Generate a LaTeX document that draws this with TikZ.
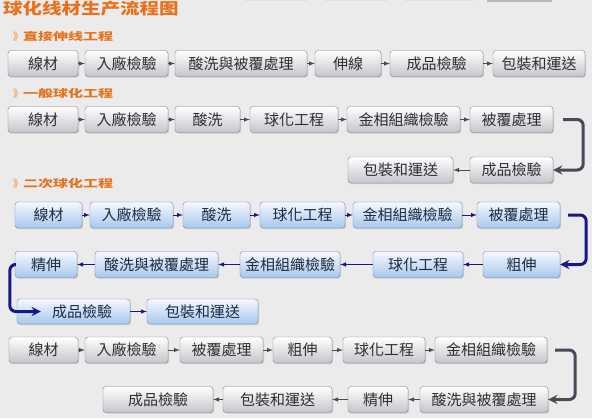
\documentclass[tikz,border=0pt]{standalone}
\usepackage{fontspec}
\usepackage{graphicx}
\newfontfamily\tcfont{Noto Sans CJK TC}
\newfontfamily\scfont{Noto Sans CJK SC}
\usetikzlibrary{shadows}

\definecolor{bgcol}{HTML}{EBEBEB}
\definecolor{hdrorange}{HTML}{E8711C}
\definecolor{hdrlight}{HTML}{F2A866}
\definecolor{boxline}{HTML}{80808A}
\definecolor{boxfill}{HTML}{C4C5CC}
\definecolor{boxtext}{HTML}{2E2E33}
\definecolor{blueline}{HTML}{6A88AC}
\definecolor{bluefill}{HTML}{A6C8EC}
\definecolor{bluetext}{HTML}{1C2B44}
\definecolor{grayarrow}{HTML}{4C4858}
\definecolor{navy}{HTML}{17178C}

\begin{document}
\begin{tikzpicture}[x=1pt,y=-1pt]
  \tikzset{box/.style={
      rounded corners=3pt, draw=boxline, top color=white, bottom color=boxfill,
      minimum height=26pt, inner sep=0pt, text=boxtext,
      font=\tcfont\fontsize{15pt}{15pt}\selectfont,
      drop shadow={shadow xshift=1pt, shadow yshift=-1.2pt, opacity=0.3}
    },
    bluebox/.style={box, draw=blueline, top color=blue!3, bottom color=bluefill, text=bluetext},
    link/.style={-latex, line width=1pt, draw=grayarrow},
    bluelink/.style={link, draw=navy},
    uturn/.style={-stealth, line width=3pt, rounded corners=6pt, draw=grayarrow},
    blueuturn/.style={uturn, draw=navy},
    header/.style={anchor=west, inner sep=0pt, text=hdrorange,
      font=\scfont\bfseries\fontsize{15pt}{15pt}\selectfont}
  }

  \useasboundingbox (0,0) rectangle (592,418);
  \fill[bgcol] (0,0) rectangle (592,418);
  % remains of the tab bar at the top edge
  \fill[gray!25] (245,0) rectangle (307,1.2);
  \fill[gray!25] (325,0) rectangle (387,1.2);
  \fill[gray!25] (405,0) rectangle (473,1.2);
  \fill[gray!55] (487,0) rectangle (552,1.6);

  \node[anchor=west, inner sep=0pt, text=hdrorange, font=\scfont\bfseries\fontsize{19.5pt}{19.5pt}\selectfont]
    (title) at (3,9) {\scalebox{1}[0.8]{球化线材生产流程图}};

  \node[header] (h1) at (13,36) {{\fontsize{10pt}{10pt}\selectfont\color{hdrlight}》}\scalebox{1}[0.7]{直接伸线工程}};
  \node[header] (h2) at (13,93) {{\fontsize{10pt}{10pt}\selectfont\color{hdrlight}》}\scalebox{1}[0.7]{一般球化工程}};
  \node[header] (h3) at (13,184) {{\fontsize{10pt}{10pt}\selectfont\color{hdrlight}》}\scalebox{1}[0.7]{二次球化工程}};

  % 直接伸线
  \node[box, minimum width=70] (r1a) at (43,63.5) {線材};
  \node[box, minimum width=83] (r1b) at (126.5,63.5) {入廠檢驗};
  \node[box, minimum width=132] (r1c) at (241,63.5) {酸洗與被覆處理};
  \node[box, minimum width=66] (r1d) at (348,63.5) {伸線};
  \node[box, minimum width=93] (r1e) at (436.5,63.5) {成品檢驗};
  \node[box, minimum width=92] (r1f) at (539,63.5) {包裝和運送};

  % 一般球化
  \node[box, minimum width=70] (r2a) at (43,119.5) {線材};
  \node[box, minimum width=83] (r2b) at (126.5,119.5) {入廠檢驗};
  \node[box, minimum width=65] (r2c) at (207.5,119.5) {酸洗};
  \node[box, minimum width=88] (r2d) at (294,119.5) {球化工程};
  \node[box, minimum width=113] (r2e) at (403.5,119.5) {金相組織檢驗};
  \node[box, minimum width=83] (r2f) at (511.5,119.5) {被覆處理};
  \node[box, minimum width=83] (r3a) at (511.5,170) {成品檢驗};
  \node[box, minimum width=105] (r3b) at (400.5,170) {包裝和運送};

  % 二次球化
  \node[bluebox, minimum width=67] (r4a) at (48.5,215) {線材};
  \node[bluebox, minimum width=83] (r4b) at (131.5,215) {入廠檢驗};
  \node[bluebox, minimum width=67] (r4c) at (216.5,215) {酸洗};
  \node[bluebox, minimum width=85] (r4d) at (302.5,215) {球化工程};
  \node[bluebox, minimum width=109] (r4e) at (407.5,215) {金相組織檢驗};
  \node[bluebox, minimum width=83] (r4f) at (518.5,215) {被覆處理};
  \node[bluebox, minimum width=77] (r5a) at (521.5,264.5) {粗伸};
  \node[bluebox, minimum width=90] (r5b) at (418,264.5) {球化工程};
  \node[bluebox, minimum width=100] (r5c) at (290,264.5) {金相組織檢驗};
  \node[bluebox, minimum width=123] (r5d) at (156.5,264.5) {酸洗與被覆處理};
  \node[bluebox, minimum width=62] (r5e) at (46,264.5) {精伸};
  \node[bluebox, minimum width=113, minimum height=25] (r6a) at (73.5,311.5) {\hspace{17pt}成品檢驗};
  \node[bluebox, minimum width=111, minimum height=25] (r6b) at (202.5,311.5) {包裝和運送};

  % 其他
  \node[box, minimum width=69] (r7a) at (43.5,350) {線材};
  \node[box, minimum width=83] (r7b) at (126.5,350) {入廠檢驗};
  \node[box, minimum width=83] (r7c) at (221.5,350) {被覆處理};
  \node[box, minimum width=59] (r7d) at (302.5,350) {粗伸};
  \node[box, minimum width=82] (r7e) at (384,350) {球化工程};
  \node[box, minimum width=112] (r7f) at (491,350) {金相組織檢驗};
  \node[box, minimum width=128] (r8a) at (484,399.5) {酸洗與被覆處理};
  \node[box, minimum width=60] (r8b) at (378,399.5) {精伸};
  \node[box, minimum width=109] (r8c) at (277.5,399.5) {包裝和運送};
  \node[box, minimum width=110] (r8d) at (158,399.5) {成品檢驗};

  \draw[link] (r1a) -- (r1b);
  \draw[link] (r1b) -- (r1c);
  \draw[link] (r1c) -- (r1d);
  \draw[link] (r1d) -- (r1e);
  \draw[link] (r1e) -- (r1f);

  \draw[link] (r2a) -- (r2b);
  \draw[link] (r2b) -- (r2c);
  \draw[link] (r2c) -- (r2d);
  \draw[link] (r2d) -- (r2e);
  \draw[link] (r2e) -- (r2f);
  \draw[uturn] ([xshift=10pt]r2f.east) -- ++(20,0) |- (r3a.east);
  \draw[link] (r3a) -- (r3b);

  \draw[bluelink] (r4a) -- (r4b);
  \draw[bluelink] (r4b) -- (r4c);
  \draw[bluelink] (r4c) -- (r4d);
  \draw[bluelink] (r4d) -- (r4e);
  \draw[bluelink] (r4e) -- (r4f);
  \draw[blueuturn] ([xshift=8pt]r4f.east) -- ++(18,0) |- (r5a.east);
  \draw[bluelink] (r5a) -- (r5b);
  \draw[bluelink] (r5b) -- (r5c);
  \draw[bluelink] (r5c) -- (r5d);
  \draw[bluelink] (r5d) -- (r5e);
  \draw[blueuturn] ([xshift=-1pt]r5e.west) -- ++(-4,0) |- ([xshift=24pt]r6a.west);
  \draw[bluelink] (r6a) -- (r6b);

  \draw[link] (r7a) -- (r7b);
  \draw[link] (r7b) -- (r7c);
  \draw[link] (r7c) -- (r7d);
  \draw[link] (r7d) -- (r7e);
  \draw[link] (r7e) -- (r7f);
  \draw[uturn] ([xshift=8pt]r7f.east) -- ++(20,0) |- (r8a.east);
  \draw[link] (r8a) -- (r8b);
  \draw[link] (r8b) -- (r8c);
  \draw[link] (r8c) -- (r8d);
\end{tikzpicture}
\end{document}
